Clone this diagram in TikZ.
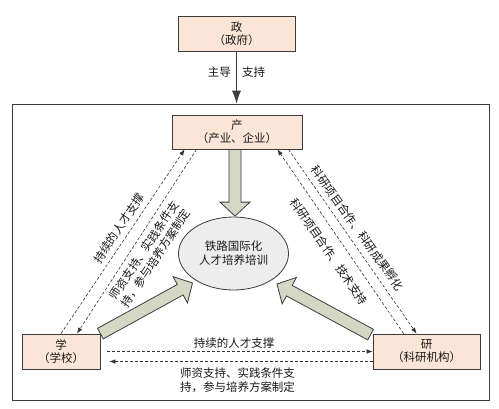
\documentclass[tikz,border=0pt]{standalone}
\usepackage{fontspec}
\newfontfamily\cjk{Noto Sans CJK SC}
\usetikzlibrary{calc,arrows.meta,shapes.geometric}
\definecolor{boxfill}{RGB}{251,229,214}
\definecolor{arrfill}{RGB}{211,215,196}
\definecolor{ellfill}{RGB}{237,237,237}
\definecolor{edge}{RGB}{60,60,60}
\newcommand{\fatarrow}[2]{%
  \path (#1) coordinate (fS) (#2) coordinate (fT);
  \coordinate (fH) at ($(fT)!14pt!(fS)$);
  \draw[fat] ($(fS)!6pt!90:(fT)$) -- ($(fH)!6pt!90:(fT)$) -- ($(fH)!15pt!90:(fT)$) -- (fT)
    -- ($(fH)!15pt!-90:(fT)$) -- ($(fH)!6pt!-90:(fT)$) -- ($(fS)!6pt!-90:(fT)$) -- cycle;}
\begin{document}
\begin{tikzpicture}[x=1pt,y=-1pt,
  txt/.style={font=\cjk\fontsize{11.5}{14}\selectfont, text=black!90, inner sep=0pt},
  actor/.style={txt, draw=edge, line width=0.8pt, fill=boxfill, align=center,
    font=\cjk\fontsize{11.5}{13}\selectfont},
  dl/.style={draw=black!80, line width=0.6pt, dash pattern=on 3pt off 2pt,
    -{Latex[length=6pt,width=4.5pt]}},
  fat/.style={draw=edge, line width=0.8pt, fill=arrfill, line join=miter},
]
\useasboundingbox (0,0) rectangle (499,408);

% frame
\node[draw=edge, line width=0.8pt, minimum width=477pt, minimum height=296pt, inner sep=0pt] (frame) at (250.5,252) {};

% actors
\node[actor, minimum width=117pt, minimum height=35pt] (zheng) at (236.5,33.5) {政\\（政府）};
\node[actor, minimum width=130pt, minimum height=34pt] (chan) at (237,132) {产\\（产业、企业）};
\node[actor, minimum width=78pt, minimum height=35pt] (xue) at (61,351.5) {学\\（学校）};
\node[actor, minimum width=107pt, minimum height=35pt] (yan) at (426.5,351.5) {研\\（科研机构）};
\node[txt, ellipse, draw=edge, line width=0.8pt, fill=ellfill, align=center,
  minimum width=110pt, minimum height=73pt] (core) at (233.5,253.5) {铁路国际化\\人才培养培训};

% government arrow
\draw[edge, line width=0.8pt, -{Latex[length=13pt,width=9pt]}] (zheng.south) -- (zheng.south |- frame.north);
\node[txt, anchor=east] (lead) at (231,72) {主导};
\node[txt, anchor=west] (supp) at (242,72) {支持};

% fat arrows
\coordinate (dS) at ($(chan.south)+(-2,0)$);
\coordinate (dT) at ($(core.north)+(1.5,-0.5)$);
\fatarrow{dS}{dT}
\coordinate (lT) at ($(core.center)+(-41,29.5)$);
\fatarrow{xue.north east}{lT}
\coordinate (rT) at ($(core.center)+(43.5,30.5)$);
\coordinate (rS) at ($(yan.north west)+(-2,1)$);
\fatarrow{rS}{rT}

% dashed connectors
\draw[dl] (xue.north) -- ($(chan.south west)+(13,0)$);
\draw[dl] ($(chan.south west)+(25,0)$) -- ($(xue.north)+(16,0)$);
\draw[dl] ($(yan.north west)+(31,0)$) -- ($(chan.south east)+(-25,0)$);
\draw[dl] ($(chan.south east)+(-14,0)$) -- ($(yan.north west)+(44,0)$);
\draw[dl] ($(xue.east)+(7,0)$) -- (yan.west);
\draw[dl] ($(yan.west)+(0,10)$) -- ($(xue.east)+(9,10)$);

% labels
\node[txt] (hb1) at (234,343) {持续的人才支撑};
\node[txt, align=center] (hb2) at (237.5,380) {师资支持、实践条件支\\持，参与培养方案制定};
\node[txt, rotate=56] (lo) at (119,228.3) {持续的人才支撑};
\node[txt, rotate=56.5, align=center] (li) at (150,254.2) {师资支持、实践条件支\\持，参与培养方案制定};
\node[txt, rotate=-54.5] (ro) at (357.5,228.3) {科研项目合作、科研成果孵化};
\node[txt, rotate=-55.5] (ri) at (329,251.7) {科研项目合作、技术支持};
\end{tikzpicture}
\end{document}
